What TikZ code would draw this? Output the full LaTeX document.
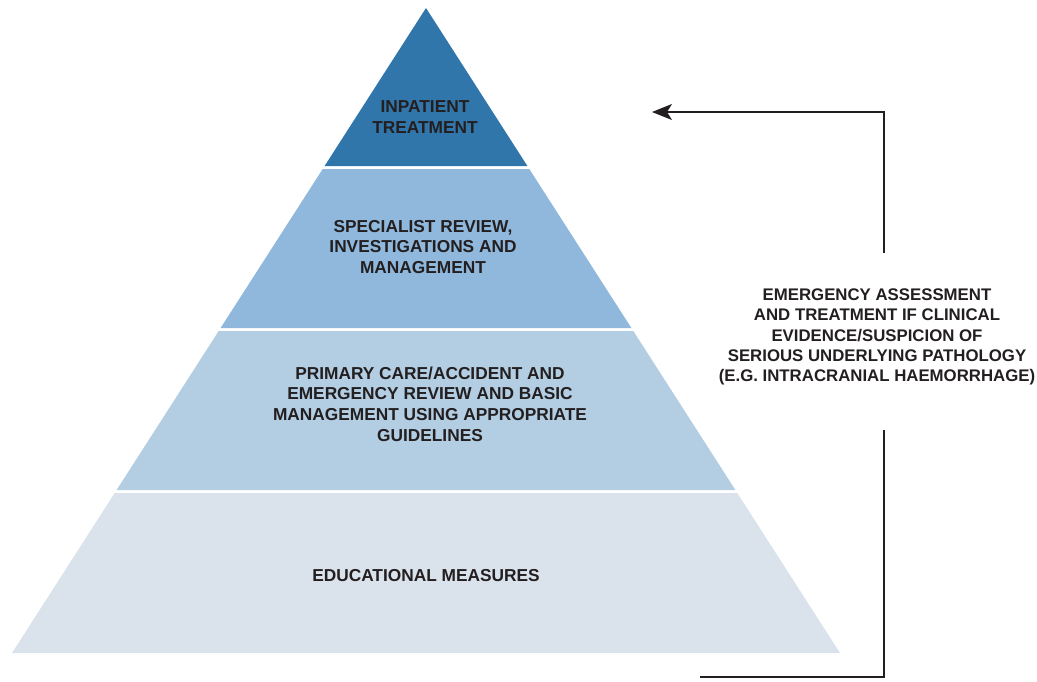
\documentclass[tikz,border=0pt]{standalone}
\usepackage{fontspec}
\setmainfont{Liberation Sans}
\usetikzlibrary{arrows.meta}
\definecolor{lvlA}{HTML}{3176AA}
\definecolor{lvlB}{HTML}{8FB8DC}
\definecolor{lvlC}{HTML}{B3CDE3}
\definecolor{lvlD}{HTML}{DAE3EC}
\definecolor{ink}{HTML}{231F20}
\tikzset{
  lbl/.style={text=ink, font=\fontsize{17.3}{20.6}\selectfont\bfseries, align=center, inner sep=0pt},
  sidelbl/.style={lbl, font=\fontsize{16.8}{20.2}\selectfont\bfseries},
  conn/.style={draw=ink, line width=1.4pt},
}
\begin{document}
\begin{tikzpicture}[x=1pt,y=-1pt]
\useasboundingbox (0,0) rectangle (1037,681);
% pyramid bands
\fill[lvlA] (426,8) -- (527.4,166) -- (324.6,166) -- cycle;
\fill[lvlB] (322.7,169) -- (529.3,169) -- (631.4,328) -- (220.6,328) -- cycle;
\fill[lvlC] (218.7,331) -- (633.3,331) -- (735.4,490) -- (116.6,490) -- cycle;
\fill[lvlD] (114.7,493) -- (737.3,493) -- (840,653) -- (12,653) -- cycle;
% labels
\node[lbl] (inp) at (425,117) {INPATIENT\\TREATMENT};
\node[lbl] (spec) at (423,247) {SPECIALIST REVIEW,\\INVESTIGATIONS AND\\MANAGEMENT};
\node[lbl] (prim) at (430,404) {PRIMARY CARE/ACCIDENT AND\\EMERGENCY REVIEW AND BASIC\\MANAGEMENT USING APPROPRIATE\\GUIDELINES};
\node[lbl] (edu) at (426,576) {EDUCATIONAL MEASURES};
\node[sidelbl] (emerg) at (877,337) {EMERGENCY ASSESSMENT\\AND TREATMENT IF CLINICAL\\EVIDENCE/SUSPICION OF\\SERIOUS UNDERLYING PATHOLOGY\\(E.G. INTRACRANIAL HAEMORRHAGE)};
% connector
\coordinate (bstart) at (700,677);
\coordinate (bcorner) at (884,677);
\coordinate (glow) at (884,430);
\coordinate (ghigh) at (884,253);
\coordinate (tcorner) at (884,112);
\coordinate (tip) at (652,112);
\draw[conn] (bstart) -- (bcorner) -- (glow);
\draw[conn, -{Stealth[length=20pt,width=16pt,inset=5pt]}] (ghigh) -- (tcorner) -- (tip);
\end{tikzpicture}
\end{document}
